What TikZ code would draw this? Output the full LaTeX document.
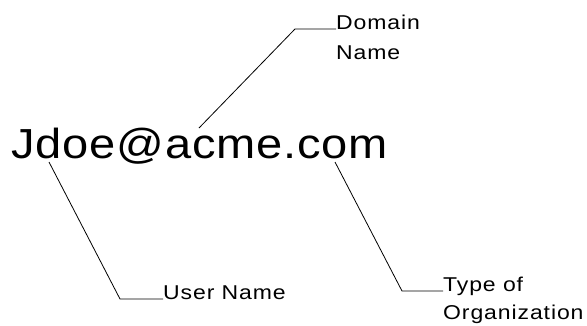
\documentclass[tikz,border=0pt]{standalone}
\usepackage{fontspec}
\setmainfont{Liberation Sans}
\newfontfamily\addrfont[FakeStretch=1.12,LetterSpace=2]{Liberation Sans}
\newfontfamily\tagfont[FakeStretch=1.15,LetterSpace=4.5]{Liberation Sans}
\newcommand\twolines[2]{\vtop{\hbox{#1}\hbox{#2}}}
\begin{document}
\begin{tikzpicture}[x=1pt,y=-1pt,
  tag/.style={anchor=base west,inner sep=0pt,
    font=\tagfont\fontsize{20}{30}\selectfont},
  leader/.style={line width=0.8pt}]
\useasboundingbox (0,0) rectangle (587,325);
\node[anchor=base west,inner sep=0pt,font=\addrfont\fontsize{42}{50}\selectfont]
  (addr) at (11,158) {Jdoe@acme.com};

\node[tag] (domain) at (336,29) {\twolines{Domain}{Name}};
\node[tag] (user) at (163,299) {User Name};
\node[tag,font=\tagfont\fontsize{20}{28}\selectfont] (orgtype) at (443,291)
  {\twolines{Type of}{Organization}};

\coordinate (domaintip) at (199,128);
\coordinate (domainknee) at (295,29);
\coordinate (usertip) at (49,162);
\coordinate (userknee) at (120,299);
\coordinate (orgtip) at (335,162);
\coordinate (orgknee) at (402,291);

\draw[leader] (domaintip) -- (domainknee) -- (domain.base west);
\draw[leader] (usertip) -- (userknee) -- (user.base west);
\draw[leader] (orgtip) -- (orgknee) -- (orgtype.base west);
\end{tikzpicture}
\end{document}
